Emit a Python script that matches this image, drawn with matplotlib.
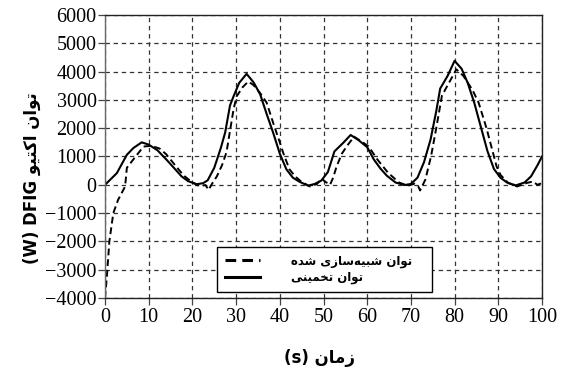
import numpy as np
import matplotlib
matplotlib.use('Agg')
import matplotlib.pyplot as plt

# estimated (solid) active power of the DFIG
t_est = [0, 2.7, 5, 6.5, 8.4, 10, 12, 14, 16, 17.5, 19, 21, 22.5, 23.5, 25, 26.5,
         27.5, 28.6, 29.4, 30.7, 32.4, 34, 35.5, 37, 38.5, 40, 41.5, 43, 44.6, 46.5,
         48, 49.5, 51, 52.5, 54.5, 56.2, 58, 60, 61.5, 63, 64.5, 66.5, 68.5, 70,
         71.5, 73, 74.5, 75.8, 76.7, 78.4, 80, 81.6, 83, 84.5, 86, 87.5, 89, 90.5,
         92, 94, 96, 97.5, 99, 100]
p_est = [0, 410, 1060, 1300, 1500, 1420, 1220, 900, 560, 300, 130, 20, 60, 160,
         600, 1300, 1850, 2800, 3120, 3600, 3920, 3620, 3200, 2500, 1830, 1100, 550,
         250, 100, -30, 30, 150, 450, 1180, 1480, 1760, 1580, 1330, 900, 580, 320,
         80, -10, 30, 250, 800, 1600, 2600, 3400, 3850, 4380, 4100, 3600, 2900, 2050,
         1200, 560, 250, 80, -20, 80, 300, 700, 1000]

# simulated (dashed) active power
t_sim = [0, 0.4, 1.0, 1.9, 3.0, 4.6, 5.0, 6.5, 8.8, 10.5, 12.5, 14, 16, 18, 20,
         21.5, 23, 23.7, 24.5, 25.6, 26.8, 27.8, 28.6, 29.4, 30.1, 31.5, 32.8, 34,
         35.5, 37, 38.5, 40, 40.8, 42.2, 43.5, 45, 46.9, 48.5, 49.6, 50.3, 51.5,
         52.2, 53, 54.2, 55.5, 57, 58.6, 60.3, 62.3, 64.8, 67.3, 69.3, 70.9, 71.7,
         72.1, 73.3, 74.6, 75.8, 77.1, 78.7, 80.4, 82, 84.1, 85.5, 87.3, 88.5, 89.6,
         90.5, 92.3, 94.3, 96.4, 98, 98.9, 100]
p_sim = [-4000, -3300, -2000, -1000, -530, -60, 600, 900, 1350, 1380, 1280, 1080,
         700, 330, 80, -40, -10, -180, 40, 300, 700, 1150, 1900, 2650, 3120, 3450,
         3650, 3520, 3240, 2900, 2180, 1500, 1120, 550, 300, 100, -60, 30, 220, 120,
         0, 250, 650, 1100, 1400, 1700, 1540, 1360, 900, 420, 80, -30, 40, -60, -200,
         180, 1000, 2000, 3150, 3600, 4080, 3850, 3350, 2900, 2000, 1300, 650, 350,
         60, -60, 60, 120, 0, 60]

xticks = np.arange(0, 101, 10)
yticks = np.arange(-4000, 6001, 1000)

# persian text written in visual order with presentation forms
w_tavan = '\uFEE5\uFE8D\uFEEE\uFE97'
w_active = '\uFEEE\uFBFF\uFE98\uFB90\uFE8D'
w_zaman = '\uFEE5\uFE8E\uFEE3\uFEAF'
w_shabih = '\uFBFC\uFEAF\uFE8E\uFEB3\uFEEA\uFBFF\uFE92\uFEB7'
w_shode = '\uFEE9\uFEAA\uFEB7'
w_takhmini = '\uFBFD\uFEE8\uFBFF\uFEE4\uFEA8\uFE97'

ylab = '(W) DFIG ' + w_active + ' ' + w_tavan
xlab = '(s) ' + w_zaman
lab_sim = w_shode + ' ' + w_shabih + ' ' + w_tavan
lab_est = w_takhmini + ' ' + w_tavan

fig = plt.figure(figsize=(5.62, 3.69), dpi=100)
ax = fig.add_axes([105/562, 1-298/369, 437/562, 283/369])

ax.plot(t_sim, p_sim, color='black', lw=1.4, ls=(0, (3.5, 2)), label=lab_sim)
ax.plot(t_est, p_est, color='black', lw=1.5, label=lab_est)

ax.set_xlim(0, 100)
ax.set_ylim(-4000, 6000)
ax.set_xticks(xticks)
ax.set_yticks(yticks)
ax.grid(True, color='#333333', lw=0.9, ls=(0, (3.5, 3)))
ax.set_axisbelow(True)
ax.tick_params(direction='out', length=5, width=0.9, color='#444444')
for lab in ax.get_xticklabels() + ax.get_yticklabels():
    lab.set_family('Liberation Serif')
    lab.set_fontsize(14.5)
ax.tick_params(axis='x', pad=2)
ax.tick_params(axis='y', pad=1)
for s in ax.spines.values():
    s.set_color('#222222')
    s.set_linewidth(1.0)
ax.spines['left'].set_color('#666666')

ax.set_xlabel(xlab, family='DejaVu Sans', fontweight='bold', fontsize=12)
ax.xaxis.set_label_coords(0.49, -0.212)
ax.xaxis.label.set_va('center')
ax.set_ylabel(ylab, family='DejaVu Sans', fontweight='bold', fontsize=12)
ax.yaxis.set_label_coords(-0.167, 0.424)
ax.yaxis.label.set_va('center')

leg = ax.legend(loc='lower left', bbox_to_anchor=(0.256, 0.021, 0.492, 0.16),
                mode='expand', fancybox=False, framealpha=1, edgecolor='black',
                prop={'family': 'DejaVu Sans', 'weight': 'bold', 'size': 8.5},
                handlelength=3.0, handletextpad=2.6, labelspacing=0.3,
                borderpad=0.65, borderaxespad=0)
leg.get_frame().set_linewidth(1.0)
for ln in leg.get_lines():
    ln.set_linewidth(2.2)

fig.savefig('out.png', dpi=100)
